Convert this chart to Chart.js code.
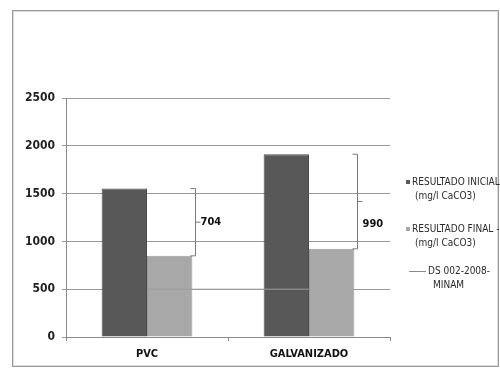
<!DOCTYPE html>
<html>
<head>
<meta charset="utf-8">
<script src="https://cdn.jsdelivr.net/npm/chart.js@4/dist/chart.umd.min.js"></script>
<style>
  html, body { margin: 0; padding: 0; background: #fff; }
  #wrap { width: 500px; height: 369px; }
</style>
</head>
<body>
<div id="wrap"><canvas id="c" width="500" height="369"></canvas></div>
<script>
// Hardness results per pipe material (mg/l CaCO3)
const categories = ['PVC', 'GALVANIZADO'];
const resultadoInicial = [1553, 1912];
const resultadoFinal = [849, 922];
const limiteDS = [500, 500];           // DS 002-2008-MINAM limit
const yTicks = [0, 500, 1000, 1500, 2000, 2500];

const FONT = '"Liberation Sans Narrow", "DejaVu Sans Condensed", "Liberation Sans", sans-serif';

const legendItems = [
  { type: 'box', color: '#585858', lines: ['RESULTADO INICIAL', '(mg/l CaCO3)'] },
  { type: 'box', color: '#a8a8a8', lines: ['RESULTADO FINAL -', '(mg/l CaCO3)'] },
  { type: 'line', color: '#8a8a8a', lines: ['DS 002-2008-', 'MINAM'] }
];

// Frame around the whole chart
const framePlugin = {
  id: 'frame',
  beforeDraw(chart) {
    const ctx = chart.ctx;
    ctx.save();
    ctx.fillStyle = '#ffffff';
    ctx.fillRect(0, 0, chart.width, chart.height);
    ctx.strokeStyle = '#9a9a9a';
    ctx.lineWidth = 1;
    ctx.strokeRect(12.5, 10.5, 486, 356);
    ctx.strokeStyle = '#dcdcdc';
    ctx.strokeRect(13.5, 11.5, 484, 354);
    ctx.restore();
  }
};

// Difference brackets between initial and final result of each material
const bracketPlugin = {
  id: 'brackets',
  afterDatasetsDraw(chart) {
    const ctx = chart.ctx;
    const y = chart.scales.y;
    const finalMeta = chart.getDatasetMeta(1);
    const labelShift = [0, 23];
    ctx.save();
    categories.forEach((cat, i) => {
      const bar = finalMeta.data[i];
      const right = bar.x + bar.width / 2;
      const bx = Math.round(right + 3) + 0.5;
      const yTop = y.getPixelForValue(resultadoInicial[i]);
      const yBot = y.getPixelForValue(resultadoFinal[i]);
      const yMid = (yTop + yBot) / 2;
      ctx.strokeStyle = '#7a7a7a';
      ctx.lineWidth = 1;
      ctx.beginPath();
      ctx.moveTo(bx - 5, yTop); ctx.lineTo(bx, yTop);
      ctx.lineTo(bx, yBot); ctx.lineTo(bx - 5, yBot);
      ctx.moveTo(bx, yMid); ctx.lineTo(bx + 5, yMid);
      ctx.stroke();
      ctx.fillStyle = '#111';
      ctx.font = 'bold 11px ' + FONT;
      ctx.textAlign = 'left';
      ctx.textBaseline = 'middle';
      ctx.fillText(String(resultadoInicial[i] - resultadoFinal[i]), bx + 5, yMid + labelShift[i]);
    });
    ctx.restore();
  }
};

// Two-line legend on the right side
const legendPlugin = {
  id: 'sideLegend',
  afterDraw(chart) {
    const ctx = chart.ctx;
    ctx.save();
    ctx.font = '10px ' + FONT;
    ctx.textBaseline = 'middle';
    ctx.textAlign = 'left';
    const rows = [182, 229, 271];
    legendItems.forEach((it, k) => {
      const y0 = rows[k];
      ctx.fillStyle = it.color;
      if (it.type === 'box') {
        ctx.fillRect(406, y0 - 2, 4, 4);
        ctx.fillStyle = '#2a2a2a';
        ctx.fillText(it.lines[0], 412, y0);
        ctx.fillText(it.lines[1], 415, y0 + 14);
      } else {
        ctx.strokeStyle = it.color;
        ctx.lineWidth = 1;
        ctx.beginPath();
        ctx.moveTo(409, y0 + 0.5); ctx.lineTo(426, y0 + 0.5);
        ctx.stroke();
        ctx.fillStyle = '#2a2a2a';
        ctx.fillText(it.lines[0], 428, y0);
        ctx.fillText(it.lines[1], 433, y0 + 14);
      }
    });
    ctx.restore();
  }
};

new Chart(document.getElementById('c'), {
  data: {
    labels: categories,
    datasets: [
      {
        type: 'bar',
        label: 'RESULTADO INICIAL (mg/l CaCO3)',
        data: resultadoInicial,
        backgroundColor: '#585858',
        borderColor: '#4a4a4a',
        borderWidth: 1,
        barPercentage: 1,
        categoryPercentage: 0.56,
        order: 2
      },
      {
        type: 'bar',
        label: 'RESULTADO FINAL - (mg/l CaCO3)',
        data: resultadoFinal,
        backgroundColor: '#a8a8a8',
        borderColor: '#9a9a9a',
        borderWidth: 1,
        barPercentage: 1,
        categoryPercentage: 0.56,
        order: 2
      },
      {
        type: 'line',
        label: 'DS 002-2008-MINAM',
        data: limiteDS,
        borderColor: '#9c9c9c',
        borderWidth: 1,
        pointRadius: 0,
        fill: false,
        order: 1
      }
    ]
  },
  options: {
    responsive: false,
    animation: false,
    devicePixelRatio: 1,
    layout: { padding: { left: 12, top: 98, right: 110, bottom: 8 } },
    plugins: { legend: { display: false }, tooltip: { enabled: false } },
    scales: {
      x: {
        type: 'category',
        offset: true,
        grid: { display: true, drawOnChartArea: false, drawTicks: true, tickLength: 4, color: '#8a8a8a', offset: true },
        border: { display: true, color: '#8a8a8a' },
        ticks: { color: '#111', font: { family: FONT, size: 11, weight: 'bold' }, padding: 7 },
        afterFit(s) { s.height = 24; }
      },
      y: {
        type: 'linear',
        min: 0,
        max: 2500,
        afterBuildTicks(s) { s.ticks = yTicks.map(v => ({ value: v })); },
        grid: { color: '#9a9a9a', lineWidth: 1, tickLength: 4, drawTicks: true },
        border: { display: true, color: '#8a8a8a' },
        ticks: {
          color: '#222',
          font: { family: FONT, size: 12, weight: 'bold' },
          padding: 7,
          callback: v => String(v)
        },
        afterFit(s) { s.width = 54; }
      }
    }
  },
  plugins: [framePlugin, bracketPlugin, legendPlugin]
});
</script>
</body>
</html>
